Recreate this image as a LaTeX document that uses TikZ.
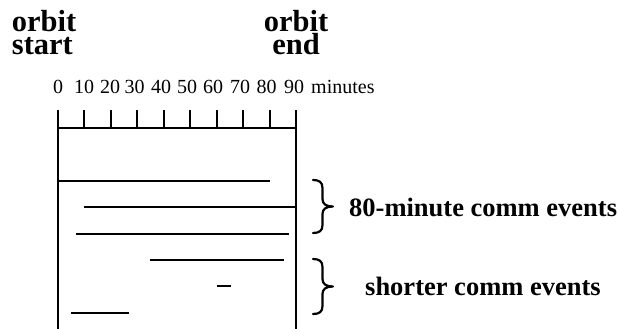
\documentclass[tikz,border=0pt]{standalone}
\usepackage{fontspec}
\setmainfont{Liberation Serif}
\begin{document}
\begin{tikzpicture}[x=1pt,y=-1pt,
    title/.style={inner sep=0pt,font=\fontsize{30.5}{23.3}\selectfont\bfseries},
    tick label/.style={inner sep=0pt,anchor=base,font=\fontsize{20}{20}\selectfont},
    group label/.style={inner sep=0pt,anchor=base west,font=\fontsize{26.5}{26.5}\selectfont\bfseries},
    axis/.style={line width=2pt},
    event/.style={line width=2pt},
    brace/.style={line width=2.2pt,line cap=round,line join=round}]
  \useasboundingbox (0,0) rectangle (618,329);

  % column headings
  \node[title,align=left,anchor=base west] (ostart) at (11.7,55) {orbit\\start};
  \node[title,align=center,anchor=base] (oend) at (296,55) {orbit\\end};

  % time scale labels
  \foreach \lbl/\xx in {0/58,10/84,20/110,30/134.5,40/161,50/187,60/213,70/240,80/266.5,90/294}
    \node[tick label] (t\lbl) at (\xx,93.5) {\lbl};
  \node[tick label,anchor=base west] (unit) at (311,93.5) {minutes};

  % scale: ticks every 10 minutes, the 0 and 90 ticks run to the bottom
  \coordinate (a0) at (58,110);
  \coordinate (a90) at (296,110);
  \coordinate (b0) at (58,329);
  \coordinate (b90) at (296,329);
  \draw[axis] (a0) -- (b0);
  \draw[axis] (a90) -- (b90);
  \draw[axis] (58,128) -- (296,128);
  \foreach \xx in {84,111,137,164,190,217,243,270}
    \draw[axis] (\xx,110) -- (\xx,128);

  % 80-minute events
  \draw[event] (58,181) -- (270,181);
  \draw[event] (84,207) -- (296,207);
  \draw[event] (76,234) -- (289,234);
  % shorter events
  \draw[event] (150,260) -- (284,260);
  \draw[event] (217,286) -- (231,286);
  \draw[event] (71,313) -- (129,313);

  % braces
  \draw[brace] (313,180) .. controls (319,180) and (322.5,182) .. (322.5,188)
    -- (322.5,199) .. controls (322.5,204) and (326,206.5) .. (333,206.5)
    .. controls (326,206.5) and (322.5,209) .. (322.5,214)
    -- (322.5,225) .. controls (322.5,231) and (319,233) .. (313,233);
  \draw[brace] (313,259) .. controls (319,259) and (322.5,261) .. (322.5,267)
    -- (322.5,279) .. controls (322.5,284) and (326,286.5) .. (333,286.5)
    .. controls (326,286.5) and (322.5,289) .. (322.5,294)
    -- (322.5,306) .. controls (322.5,312) and (319,314) .. (313,314);

  \node[group label] (long) at (349,216.7) {80-minute comm events};
  \node[group label] (short) at (365,295) {shorter comm events};
\end{tikzpicture}
\end{document}
